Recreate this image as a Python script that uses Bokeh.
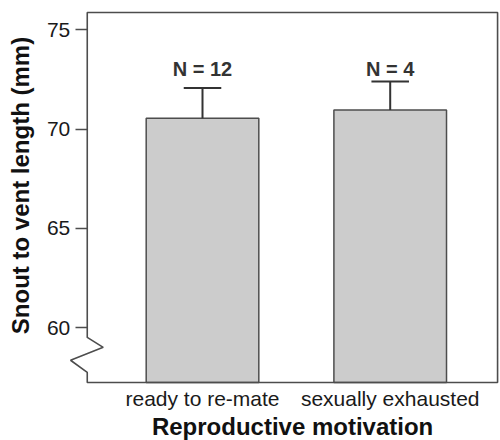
import math
from bokeh.plotting import figure
from bokeh.models import Range1d, FixedTicker, Label, PolyAnnotation, ColumnDataSource
from bokeh.embed import file_html
from bokeh.resources import INLINE
from bokeh.core.properties import value

# ---- data ----
groups = ["ready to re-mate", "sexually exhausted"]
positions = [1, 2]
means = [70.54, 70.96]
upper_err = [1.53, 1.44]
n_values = [12, 4]
y_ticks = [60, 65, 70, 75]

# ---- layout constants (data-space positions of the frame decorations) ----
Y_BOTTOM, Y_TOP = 57.24, 75.87         # drawn axis box
X_AXIS, X_RIGHT = 0.386, 2.572         # drawn y-axis position / right border
FONT = "Liberation Sans"
AXIS_COL = "#4d4d4d"

upper = [m + e for m, e in zip(means, upper_err)]
src = ColumnDataSource(dict(
    x=positions, top=means, upper=upper,
    cap_l=[x - 0.1 for x in positions], cap_r=[x + 0.1 for x in positions],
    ntext=[f"N = {n}" for n in n_values],
))

p = figure(width=500, height=440, x_range=Range1d(-0.0762, 2.5876), y_range=Range1d(54.32, 76.475),
           output_backend="svg", toolbar_location=None,
           min_border=0)
p.outline_line_color = None
p.grid.grid_line_color = None
p.background_fill_color = "white"

p.vbar(x="x", top="top", bottom=Y_BOTTOM, width=0.6, source=src,
       fill_color="#cccccc", line_color=AXIS_COL, line_width=1.5)
p.segment(x0="x", y0="top", x1="x", y1="upper", source=src, line_color="#333333", line_width=2)
p.segment(x0="cap_l", y0="upper", x1="cap_r", y1="upper", source=src, line_color="#333333", line_width=2)
p.text(x="x", y=73.04, text="ntext", source=src, text_align="center", text_baseline="alphabetic",
       text_font=value(FONT), text_font_style="bold", text_font_size="20px", text_color="#333333")

# y axis, drawn at a fixed data location inside the canvas
ya = p.yaxis[0]
ya.fixed_location = X_AXIS
ya.ticker = FixedTicker(ticks=y_ticks)
ya.axis_line_color = None
ya.major_tick_out = 12
ya.major_tick_in = 0
ya.minor_tick_line_color = None
ya.major_tick_line_color = AXIS_COL
ya.major_tick_line_width = 1.5
ya.major_label_standoff = 5
ya.major_label_text_font = FONT
ya.major_label_text_font_size = "21px"
ya.major_label_text_color = "#1a1a1a"

# x axis, drawn at the bottom of the box
xa = p.xaxis[0]
xa.fixed_location = Y_BOTTOM
xa.ticker = FixedTicker(ticks=positions)
xa.major_label_overrides = {pos: g for pos, g in zip(positions, groups)}
xa.axis_line_color = None
xa.major_tick_line_color = None
xa.minor_tick_line_color = None
xa.major_tick_out = 0
xa.major_tick_in = 0
xa.major_label_standoff = 4
xa.major_label_text_font = FONT
xa.major_label_text_font_size = "21px"
xa.major_label_text_color = "#1a1a1a"

# axis box with the break (zigzag) on the y axis
frame = PolyAnnotation(
    xs=[X_AXIS, X_AXIS, X_AXIS + 0.085, X_AXIS - 0.089, X_AXIS, X_AXIS, X_RIGHT, X_RIGHT],
    ys=[Y_TOP, 59.51, 59.01, 58.36, 57.75, Y_BOTTOM, Y_BOTTOM, Y_TOP],
    fill_color=None, fill_alpha=0, line_color=AXIS_COL, line_alpha=1.0, line_width=1.6,
)
p.add_layout(frame)

ylab = Label(x=0.028, y=67.16, text="Snout to vent length (mm)", angle=math.pi / 2,
             text_align="center", text_baseline="middle", text_font=FONT,
             text_font_style="bold", text_font_size="24px", text_color="#111111")
p.add_layout(ylab)

xlab = Label(x=1.48, y=55.0, text="Reproductive motivation",
             text_align="center", text_baseline="middle", text_font=FONT,
             text_font_style="bold", text_font_size="24px", text_color="#111111")
p.add_layout(xlab)

open("out.html", "w").write(file_html(p, INLINE))
